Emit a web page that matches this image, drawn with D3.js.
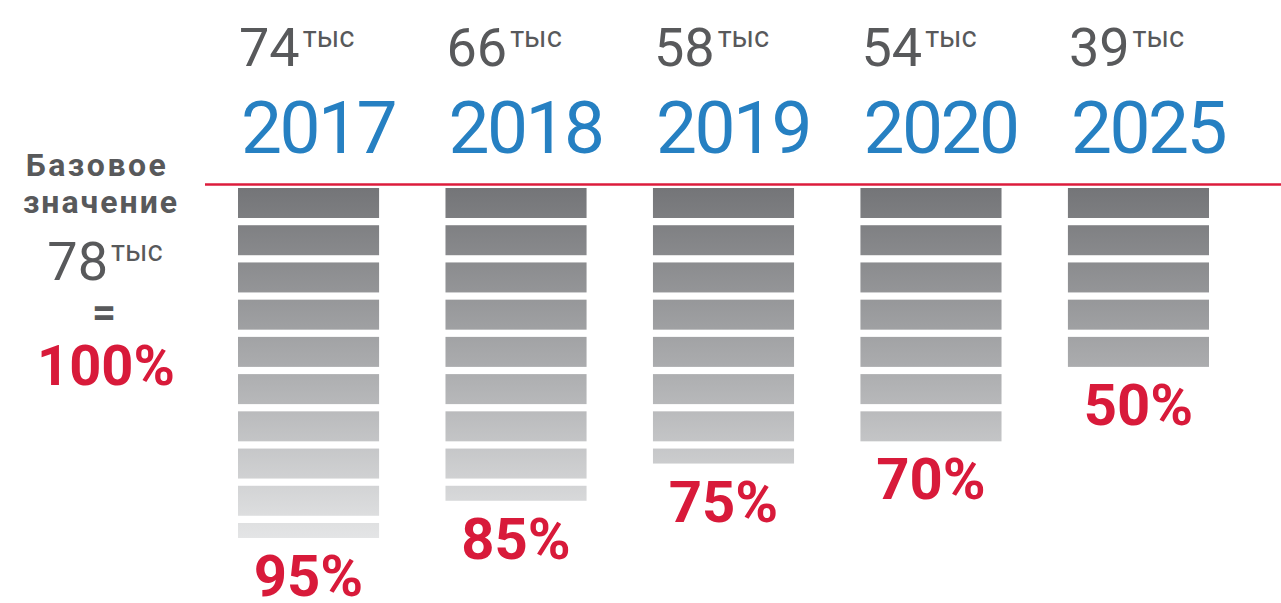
<!DOCTYPE html>
<html>
<head>
<meta charset="utf-8">
<script src="https://cdn.jsdelivr.net/npm/d3@7"></script>
<style>
  body { margin: 0; background: #fff; }
  text { font-family: Roboto, "DejaVu Sans", sans-serif; }
</style>
</head>
<body>
<div id="chart"></div>
<script>
const years = ['2017', '2018', '2019', '2020', '2025'];
const counts = [74, 66, 58, 54, 39];
const percents = [95, 85, 75, 70, 50];
const baseValue = 78;
const unit = 'тыс';

const width = 1281, height = 603;
const grey = '#58595b', blue = '#2680c2', red = '#d81a3a';

const data = years.map((y, i) => ({year: y, count: counts[i], pct: percents[i]}));

const svg = d3.select('#chart').append('svg')
  .attr('width', width)
  .attr('height', height);

// columns
const x = d3.scaleBand().domain(years).range([238, 1209]).paddingInner(0.32);
// 10 blocks per column, each = 10%
const seg = d3.scaleBand().domain(d3.range(10)).range([188, 553]).paddingInner(0.194);

const grad = svg.append('defs').append('linearGradient')
  .attr('id', 'g')
  .attr('gradientUnits', 'userSpaceOnUse')
  .attr('x1', 0).attr('x2', 0)
  .attr('y1', seg.range()[0]).attr('y2', seg.range()[1]);
grad.append('stop').attr('offset', 0).attr('stop-color', '#747578');
grad.append('stop').attr('offset', 0.5).attr('stop-color', '#acadaf');
grad.append('stop').attr('offset', 1).attr('stop-color', '#e9eaeb');

// red baseline
svg.append('line')
  .attr('x1', 205).attr('x2', width)
  .attr('y1', 184.5).attr('y2', 184.5)
  .attr('stroke', '#dc1c3c')
  .attr('stroke-width', 2.6);

const col = svg.selectAll('.col')
  .data(data)
  .enter().append('g')
  .attr('class', 'col');

col.selectAll('rect')
  .data(d => d3.range(Math.ceil(d.pct / 10)).map(i => ({i: i, frac: Math.min(d.pct - i * 10, 10) / 10, year: d.year})))
  .enter().append('rect')
  .attr('x', d => x(d.year))
  .attr('width', x.bandwidth())
  .attr('y', d => seg(d.i))
  .attr('height', d => d.frac * seg.bandwidth())
  .attr('fill', 'url(#g)');

function barEnd(d) {
  const n = Math.ceil(d.pct / 10) - 1;
  return seg(n) + Math.min(d.pct - n * 10, 10) / 10 * seg.bandwidth();
}

col.append('text')
  .attr('x', d => x(d.year) + x.bandwidth() / 2)
  .attr('y', d => barEnd(d) + 58)
  .attr('text-anchor', 'middle')
  .attr('fill', red)
  .attr('font-size', 58)
  .attr('font-weight', 700)
  .text(d => d.pct + '%');

col.append('text')
  .attr('x', d => x(d.year) + 3)
  .attr('y', 153)
  .attr('fill', blue)
  .attr('font-size', 73)
  .attr('letter-spacing', -2.5)
  .text(d => d.year);

const num = col.append('text')
  .attr('x', d => x(d.year) + 1)
  .attr('y', 66)
  .attr('fill', grey);
num.append('tspan')
  .attr('font-size', 54)
  .text(d => d.count);
num.append('tspan')
  .attr('font-size', 29)
  .attr('dy', -19)
  .attr('dx', 3)
  .text(unit);

// left block
const left = svg.append('g').attr('fill', grey).attr('text-anchor', 'middle');
left.append('text')
  .attr('x', 97).attr('y', 176)
  .attr('font-size', 32).attr('font-weight', 700)
  .attr('letter-spacing', 2.5)
  .text('Базовое');
left.append('text')
  .attr('x', 101).attr('y', 213)
  .attr('font-size', 32).attr('font-weight', 700)
  .attr('letter-spacing', 2)
  .text('значение');
const base = left.append('text').attr('x', 105).attr('y', 280);
base.append('tspan').attr('font-size', 54).text(baseValue);
base.append('tspan').attr('font-size', 29).attr('dy', -19).attr('dx', 3).text(unit);
left.append('text')
  .attr('x', 104).attr('y', 327)
  .attr('font-size', 42).attr('font-weight', 700)
  .text('=');
left.append('text')
  .attr('x', 106).attr('y', 385)
  .attr('fill', red)
  .attr('font-size', 56).attr('font-weight', 700)
  .text('100%');
</script>
</body>
</html>
